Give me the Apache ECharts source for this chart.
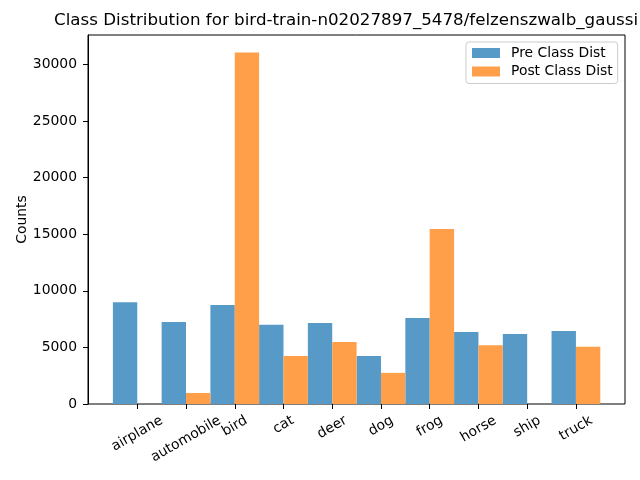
<!DOCTYPE html>
<html>
<head>
<meta charset="utf-8">
<script src="https://cdn.jsdelivr.net/npm/echarts@6/dist/echarts.min.js"></script>
<style>html,body{margin:0;padding:0;background:#fff}#c{width:640px;height:480px}</style>
</head>
<body>
<div id="c"></div>
<script>
const categories = ['airplane','automobile','bird','cat','deer','dog','frog','horse','ship','truck'];
const preValues = [9000, 7250, 8750, 7000, 7150, 4250, 7600, 6350, 6180, 6450];
const postValues = [0, 970, 31050, 4250, 5480, 2750, 15450, 5200, 0, 5050];
const yTicks = [0, 5000, 10000, 15000, 20000, 25000, 30000];
const titleText = 'Class Distribution for bird-train-n02027897_5478/felzenszwalb_gaussi';
const seriesNames = ['Pre Class Dist', 'Post Class Dist'];

const FONT = 'DejaVu Sans';
const FS = 13.9;
const LABEL_MARGIN = 6;
const cv = document.createElement('canvas').getContext('2d');
cv.font = FS + 'px "' + FONT + '"';
const richStyles = {};
categories.forEach(function (name, i) {
  const w = cv.measureText(name).width;
  const D = (419.5 + 0.25 * w) - (404 + LABEL_MARGIN);
  richStyles['l' + i] = { fontFamily: FONT, fontSize: FS, color: '#000',
                          padding: [1.732 * D, D, 0, 0] };
});

const chart = echarts.init(document.getElementById('c'));
chart.setOption({
  animation: false,
  backgroundColor: '#fff',
  textStyle: { fontFamily: FONT },
  title: {
    text: titleText,
    left: 54, top: 12, padding: 0,
    textStyle: { fontFamily: FONT, fontSize: 16.7, fontWeight: 'normal', color: '#000' }
  },
  legend: {
    orient: 'vertical',
    left: 466, top: 42,
    padding: [4, 5, 5, 6],
    itemGap: 4.5,
    itemWidth: 28, itemHeight: 10,
    icon: 'rect',
    backgroundColor: 'rgba(255,255,255,0.8)',
    borderColor: '#cccccc', borderWidth: 1, borderRadius: 3,
    textStyle: { fontFamily: FONT, fontSize: FS, color: '#000', padding: [0, 0, 0, 6] },
    data: seriesNames
  },
  grid: [
    { left: 112.9, right: 39.7, top: 35, bottom: 76 },
    { left: 88, right: 15, top: 35, bottom: 76, show: true, borderColor: '#000', borderWidth: 1, backgroundColor: 'transparent' }
  ],
  xAxis: [
    {
      type: 'category', gridIndex: 0, data: categories,
      boundaryGap: true,
      axisLine: { show: false },
      axisTick: { show: true, alignWithLabel: true, length: 5, lineStyle: { color: '#000' } },
      axisLabel: { interval: 0, rotate: 30, align: 'center', verticalAlign: 'middle', margin: LABEL_MARGIN,
                   fontFamily: FONT, fontSize: FS, color: '#000',
                   formatter: function (value, index) { return '{l' + index + '|' + value + '}'; },
                   rich: richStyles },
      splitLine: { show: false }
    },
    { type: 'value', gridIndex: 1, min: 0, max: 1, show: false }
  ],
  yAxis: [
    { type: 'value', gridIndex: 0, min: 0, max: 32600, show: false, splitLine: { show: false } },
    {
      type: 'value', gridIndex: 1, min: 0, max: 32600, interval: 5000,
      name: 'Counts', nameLocation: 'middle', nameGap: 59, nameMoveOverlap: false,
      nameTextStyle: { fontFamily: FONT, fontSize: FS, color: '#000' },
      axisLine: { show: true, lineStyle: { color: '#000' } },
      axisTick: { show: true, length: 5, lineStyle: { color: '#000' }, customValues: yTicks },
      axisLabel: { margin: 11, fontFamily: FONT, fontSize: FS, color: '#000', customValues: yTicks,
                   formatter: function (v) { return String(v); } },
      splitLine: { show: false }
    }
  ],
  series: [
    { name: seriesNames[0], type: 'bar', xAxisIndex: 0, yAxisIndex: 0, data: preValues,
      barGap: '0%', barCategoryGap: '0%', itemStyle: { color: '#5799c7' } },
    { name: seriesNames[1], type: 'bar', xAxisIndex: 0, yAxisIndex: 0, data: postValues,
      barGap: '0%', barCategoryGap: '0%', itemStyle: { color: '#ff9f4a' } }
  ]
});
</script>
</body>
</html>
